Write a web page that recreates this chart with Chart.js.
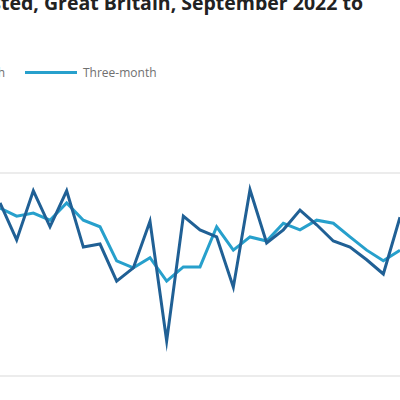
<!DOCTYPE html>
<html><head><meta charset="utf-8">
<script src="https://cdn.jsdelivr.net/npm/chart.js@4"></script>
<style>
body{margin:0;width:400px;height:400px;overflow:hidden;background:#fff;position:relative;font-family:"Open Sans",sans-serif}
#title{position:absolute;right:37px;top:-11px;white-space:nowrap;font-weight:700;font-size:19.5px;color:#222}
.lg{position:absolute;top:64px;font-size:12px;color:#707070;white-space:nowrap}
.sw{position:absolute;top:71px;height:3px;width:52px;background:#27a0cc}
#c{position:absolute;left:0;top:0}
</style></head><body>
<div id="title">Seasonally adjusted, Great Britain, September 2022 to</div>
<div class="lg" style="right:395px">Month</div>
<div class="sw" style="left:25px"></div>
<div class="lg" style="left:83px">Three-month</div>
<canvas id="c" width="400" height="400"></canvas>
<script>
const labels = Array.from({length:25},(_,i)=>"P"+(i+1));
const monthly = [1.41,0.68,1.65,0.94,1.65,0.54,0.60,-0.13,0.13,1.05,-1.31,1.15,0.88,0.74,-0.25,1.67,0.62,0.88,1.27,0.98,0.66,0.54,0.29,0.01,1.13];
const threeMonth = [1.31,1.15,1.21,1.07,1.41,1.07,0.94,0.27,0.13,0.33,-0.13,0.15,0.15,0.94,0.48,0.74,0.66,1.01,0.88,1.07,1.01,0.74,0.48,0.27,0.48];
const gridTicks = [-2,2];
new Chart(document.getElementById('c'),{
type:'line',
data:{labels,datasets:[
{label:'Month',data:monthly,borderColor:'#206095',borderWidth:3,pointRadius:0,tension:0},
{label:'Three-month',data:threeMonth,borderColor:'#27a0cc',borderWidth:3,pointRadius:0,tension:0}
]},
options:{responsive:false,animation:false,events:[],
layout:{padding:{top:173,bottom:24,left:0,right:0}},
plugins:{legend:{display:false},tooltip:{enabled:false}},
scales:{
x:{display:false,offset:false},
y:{min:-2,max:2,afterBuildTicks:s=>{s.ticks=gridTicks.map(v=>({value:v}));},ticks:{display:false},border:{display:false},grid:{color:'#ececec',lineWidth:2,drawTicks:false}}
}}
});
</script>
</body></html>
